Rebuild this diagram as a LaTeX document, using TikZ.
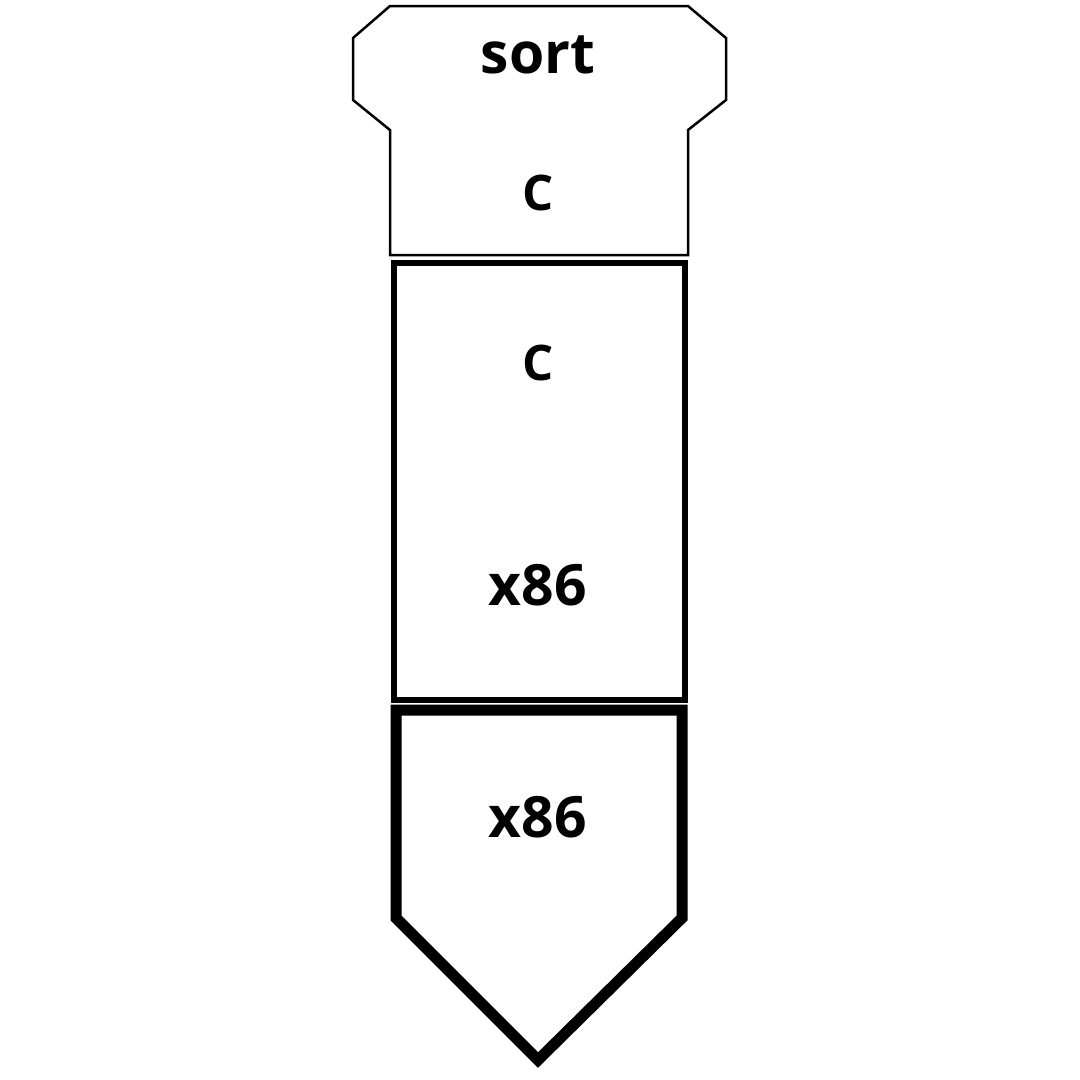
\documentclass[tikz,border=0pt]{standalone}
\usepackage{fontspec}
\setmainfont{Open Sans}
\usepackage{tikz}

\tikzset{
  lbl/.style={anchor=base, inner sep=0pt, font=\fontsize{57}{60}\selectfont\bfseries},
  lblsmall/.style={anchor=base, inner sep=0pt, font=\fontsize{49}{52}\selectfont\bfseries}
}

\begin{document}
\begin{tikzpicture}[x=1pt, y=-1pt, line join=miter]

  \useasboundingbox[fill=white] (0,0) rectangle (1080,1080);

  \newcommand\Mid{538};

  %% program: sort in C
  \draw[line width=2.5pt] (390,6) -- (688,6) -- (726,38) -- (726,100) -- (688,130)
  -- (688,255) -- (390,255) -- (390,130) -- (353,100) -- (353,38) -- cycle;
  \node[lbl] (prog) at (\Mid, 73) {sort};
  \node[lblsmall] (progsrc) at (\Mid, 210) {C};

  %% interpreter: C on x86
  \draw[line width=6pt] (394,263) rectangle (685,700);
  \node[lblsmall] (interpsrc) at (\Mid, 380) {C};
  \node[lbl] (interphost) at (\Mid, 605) {x86};

  %% machine: x86
  \draw[line width=11pt] (396,710) -- (682,710) -- (682,918) -- (538,1060)
  -- (396,918) -- cycle;
  \node[lbl] (mach) at (\Mid, 837) {x86};

\end{tikzpicture}
\end{document}
